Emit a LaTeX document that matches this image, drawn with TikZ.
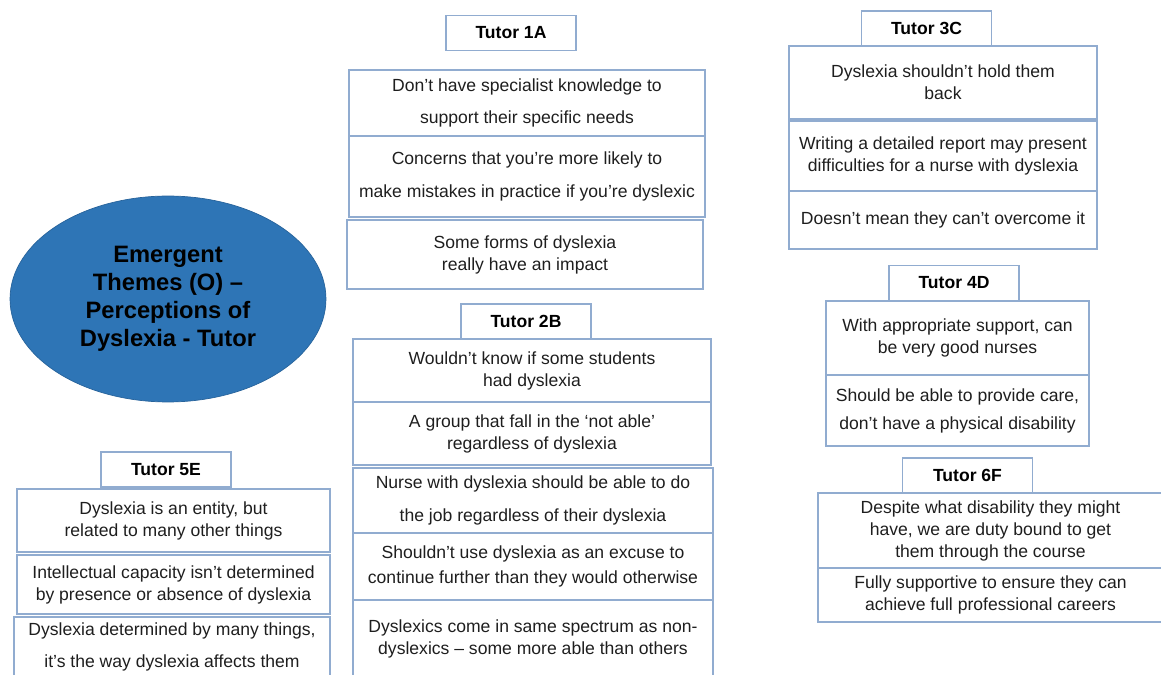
\documentclass[tikz,border=0pt]{standalone}
\usepackage{fontspec}
\setmainfont{Liberation Sans}
\usetikzlibrary{shapes.geometric}
\definecolor{themeblue}{RGB}{46,117,182}
\definecolor{cellline}{RGB}{145,172,208}
\definecolor{celltext}{RGB}{30,30,30}
\begin{document}
\begin{tikzpicture}[x=0.02cm,y=-0.02cm,
	tutor/.style={draw=cellline,line width=0.8pt,inner sep=0pt,minimum width=2.6cm,minimum height=0.7cm,font=\fontsize{10}{12}\selectfont\bfseries},
	cell/.style={draw=cellline,line width=0.8pt,inner sep=0pt,align=center,text=celltext,font=\fontsize{10}{12.5}\selectfont},
	theme/.style={ellipse,fill=themeblue,draw=themeblue!85!black,inner sep=0pt,minimum width=6.32cm,minimum height=4.12cm,align=center,font=\fontsize{13.5}{15.9}\selectfont\bfseries}]
		\clip (0,0) rectangle (1161,675);
		\node[theme] (theme) at (168,299) {Emergent\\Themes (O) --\\Perceptions of\\Dyslexia - Tutor};
		\node[tutor] (t1a) at (511,33) {Tutor 1A};
		\node[cell,minimum width=7.12cm,minimum height=1.32cm] (t1a1) at (527,103) {Don't have specialist knowledge to\\[6pt]support their specific needs};
		\node[cell,minimum width=7.12cm,minimum height=1.62cm] (t1a2) at (527,176.5) {Concerns that you're more likely to\\[6pt]make mistakes in practice if you're dyslexic};
		\node[cell,minimum width=7.12cm,minimum height=1.38cm] (t1a3) at (525,254.5) {Some forms of dyslexia\\really have an impact};
		\node[tutor] (t2b) at (526,321.5) {Tutor 2B};
		\node[cell,minimum width=7.16cm,minimum height=1.26cm] (t2b1) at (532,370.5) {Wouldn't know if some students\\had dyslexia};
		\node[cell,minimum width=7.16cm,minimum height=1.26cm] (t2b2) at (532,433.5) {A group that fall in the `not able'\\regardless of dyslexia};
		\node[cell,minimum width=7.2cm,minimum height=1.3cm] (t2b3) at (533,500.5) {Nurse with dyslexia should be able to do\\[6pt]the job regardless of their dyslexia};
		\node[cell,minimum width=7.2cm,minimum height=1.34cm] (t2b4) at (533,566.5) {Shouldn't use dyslexia as an excuse to\\[1.7pt]continue further than they would otherwise};
		\node[cell,minimum width=7.2cm,minimum height=1.54cm] (t2b5) at (533,638.5) {Dyslexics come in same spectrum as non-\\dyslexics -- some more able than others};
		\node[tutor] (t3c) at (926.5,28.5) {Tutor 3C};
		\node[cell,minimum width=6.16cm,minimum height=1.46cm] (t3c1) at (943,82.5) {Dyslexia shouldn't hold them\\back};
		\node[cell,minimum width=6.16cm,minimum height=1.4cm] (t3c2) at (943,156) {Writing a detailed report may present\\difficulties for a nurse with dyslexia};
		\node[cell,minimum width=6.16cm,minimum height=1.16cm] (t3c3) at (943,220) {Doesn't mean they can't overcome it};
		\node[tutor] (t4d) at (954,283) {Tutor 4D};
		\node[cell,minimum width=5.26cm,minimum height=1.48cm] (t4d1) at (957.5,338) {With appropriate support, can\\be very good nurses};
		\node[cell,minimum width=5.26cm,minimum height=1.42cm] (t4d2) at (957.5,410.5) {Should be able to provide care,\\[3.4pt]don't have a physical disability};
		\node[tutor] (t6f) at (967.5,475.5) {Tutor 6F};
		\node[cell,minimum width=6.9cm,minimum height=1.5cm] (t6f1) at (990.5,530.5) {Despite what disability they might\\have, we are duty bound to get\\them through the course};
		\node[cell,minimum width=6.9cm,minimum height=1.08cm] (t6f2) at (990.5,595) {Fully supportive to ensure they can\\achieve full professional careers};
		\node[tutor] (t5e) at (166,469.5) {Tutor 5E};
		\node[cell,minimum width=6.26cm,minimum height=1.26cm] (t5e1) at (173.5,520.5) {Dyslexia is an entity, but\\related to many other things};
		\node[cell,minimum width=6.26cm,minimum height=1.18cm] (t5e2) at (173.5,584.5) {Intellectual capacity isn't determined\\by presence or absence of dyslexia};
		\node[cell,minimum width=6.32cm,minimum height=1.2cm] (t5e3) at (172,647) {Dyslexia determined by many things,\\[6pt]it's the way dyslexia affects them};
\end{tikzpicture}
\end{document}
